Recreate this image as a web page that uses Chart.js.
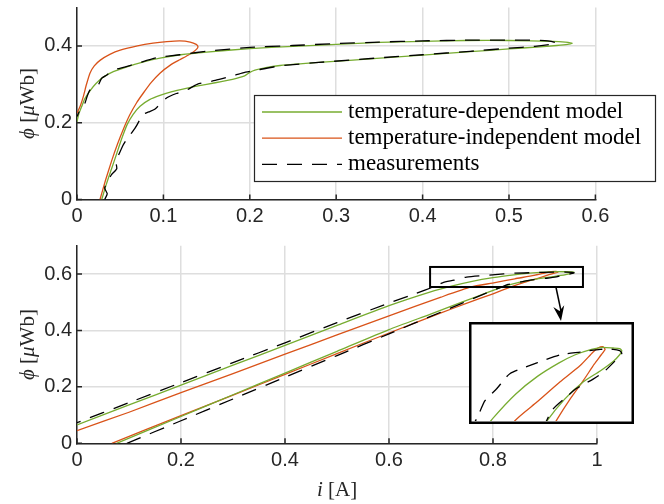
<!DOCTYPE html>
<html><head><meta charset="utf-8">
<script src="https://cdn.jsdelivr.net/npm/chart.js@4"></script>
<style>
html,body{margin:0;padding:0;background:#fff;}
#wrap{position:relative;width:664px;height:504px;overflow:hidden;background:#fff;}
canvas{position:absolute;left:0;}
#cTop{top:0;}
#cBot{top:230px;}
#cIn{left:469px;top:322px;background:#fff;}
</style></head><body>
<div id="wrap">
<canvas id="cTop" width="664" height="230"></canvas>
<canvas id="cBot" width="664" height="274"></canvas>
<canvas id="cIn" width="165" height="102"></canvas>
</div>
<script>
// ---------- data (i in A, phi in uWb) ----------
const legendLabels = ['temperature-dependent model', 'temperature-independent model', 'measurements'];

// Upper subplot
const topTdI   = [0.0286,0.034,0.040,0.046,0.052,0.058,0.065,0.073,0.084,0.096,0.110,0.125,0.140,0.160,0.180,0.194,0.200,0.206,0.220,0.235,0.280,0.351,0.400,0.455,0.500,0.532,0.555,0.568,0.573,0.565,0.550,0.500,0.450,0.400,0.350,0.300,0.250,0.200,0.150,0.120,0.096,0.075,0.057,0.042,0.030,0.022,0.015,0.009,0.0054,0.002,0];
const topTdPhi = [0,0.040,0.080,0.120,0.160,0.195,0.222,0.243,0.260,0.271,0.281,0.289,0.296,0.304,0.313,0.322,0.331,0.337,0.344,0.349,0.357,0.368,0.376,0.385,0.392,0.397,0.401,0.404,0.407,0.410,0.412,0.414,0.414,0.412,0.409,0.404,0.399,0.393,0.384,0.377,0.368,0.357,0.345,0.333,0.318,0.302,0.283,0.262,0.242,0.222,0.203];

const topTiI   = [0.0266,0.033,0.040,0.047,0.054,0.061,0.069,0.077,0.086,0.096,0.108,0.119,0.128,0.135,0.139,0.140,0.138,0.131,0.119,0.104,0.088,0.070,0.050,0.038,0.027,0.020,0.015,0.011,0.0073,0.004,0];
const topTiPhi = [0,0.050,0.100,0.145,0.185,0.220,0.252,0.278,0.305,0.329,0.350,0.364,0.375,0.385,0.393,0.398,0.404,0.410,0.413,0.411,0.407,0.400,0.389,0.378,0.363,0.348,0.329,0.300,0.268,0.245,0.225];

const topMeasI   = [0.032,0.035,0.032,0.036,0.040,0.046,0.045,0.048,0.053,0.057,0.062,0.067,0.072,0.075,0.083,0.090,0.097,0.104,0.115,0.127,0.139,0.160,0.180,0.192,0.208,0.235,0.280,0.351,0.400,0.455,0.500,0.530,0.548,0.555,0.545,0.532,0.500,0.455,0.400,0.350,0.300,0.250,0.200,0.154,0.119,0.092,0.069,0.055,0.042,0.035,0.0286,0.025,0.015,0.012,0.009,0.0035,0];
const topMeasPhi = [0,0.015,0.030,0.050,0.065,0.080,0.100,0.115,0.140,0.155,0.170,0.185,0.205,0.220,0.228,0.235,0.250,0.265,0.276,0.285,0.300,0.310,0.322,0.330,0.337,0.348,0.357,0.369,0.377,0.386,0.394,0.399,0.404,0.408,0.413,0.415,0.415,0.415,0.413,0.410,0.406,0.401,0.396,0.387,0.377,0.369,0.354,0.345,0.337,0.325,0.316,0.300,0.285,0.270,0.250,0.233,0.216];

// Lower subplot
const botTdI   = [0.076,0.2,0.3,0.4,0.5,0.6,0.68,0.74,0.79,0.814,0.85,0.885,0.916,0.94,0.952,0.956,0.952,0.94,0.92,0.90,0.87,0.84,0.80,0.76,0.72,0.68,0.6,0.5,0.4,0.3,0.2,0.1,0];
const botTdPhi = [0,0.095,0.172,0.249,0.326,0.403,0.458,0.500,0.535,0.552,0.570,0.583,0.591,0.598,0.603,0.606,0.6075,0.608,0.6085,0.607,0.603,0.597,0.587,0.574,0.557,0.537,0.488,0.418,0.347,0.277,0.206,0.136,0.065];

const botTiI   = [0.067,0.2,0.3,0.4,0.5,0.6,0.7,0.75,0.8,0.836,0.86,0.885,0.905,0.918,0.925,0.921,0.912,0.903,0.879,0.842,0.799,0.758,0.7,0.6,0.5,0.4,0.3,0.2,0.1,0];
const botTiPhi = [0,0.098,0.171,0.244,0.318,0.391,0.462,0.497,0.530,0.555,0.570,0.584,0.596,0.603,0.607,0.609,0.608,0.605,0.595,0.583,0.568,0.554,0.518,0.452,0.384,0.316,0.247,0.180,0.110,0.045];

const botMeasI   = [0.096,0.2,0.3,0.4,0.5,0.6,0.7,0.78,0.814,0.829,0.854,0.872,0.903,0.922,0.94,0.95,0.956,0.952,0.94,0.916,0.879,0.842,0.799,0.749,0.725,0.703,0.688,0.65,0.6,0.5,0.4,0.3,0.2,0.1,0];
const botMeasPhi = [0,0.080,0.157,0.234,0.311,0.388,0.465,0.527,0.552,0.563,0.572,0.578,0.585,0.590,0.597,0.601,0.604,0.606,0.607,0.607,0.605,0.603,0.597,0.589,0.578,0.569,0.556,0.530,0.497,0.428,0.356,0.286,0.215,0.144,0.073];

// Axis ranges / ticks
const topXRange = [0, 0.6], topXStep = 0.1, topYRange = [0, 0.5], topYStep = 0.2;
const botXRange = [0, 1],   botXStep = 0.2, botYRange = [0, 0.7], botYStep = 0.2;
// Zoomed region shown in the inset
const insetIRange = [0.679, 0.973];
const insetPhiRange = [0.554, 0.625];

// ---------- styling ----------
const GREEN = '#77AC30', ORANGE = '#D95319', BLACK = '#000000', AX = '#262626';
const DASH = [15, 10];
const TICKFONT = {family: '"Liberation Sans", Arial, Helvetica, sans-serif', size: 20};
const SERIF = '"Liberation Serif", "Times New Roman", serif';

function pts(xs, ys) { return xs.map((x, k) => ({x: x, y: ys[k]})); }
function ds(label, xs, ys, color, dash, order) {
  return {label, data: pts(xs, ys), showLine: true, borderColor: color, backgroundColor: color,
    borderWidth: 1.3, borderDash: dash, pointRadius: 0, pointHoverRadius: 0, fill: false,
    tension: 0.2, order};
}
const fmt = v => String(+(+v).toFixed(2));

function xAxis(r, step, h) {
  return {type: 'linear', min: r[0], max: r[1],
    ticks: {stepSize: step, color: AX, font: TICKFONT, padding: 5, maxRotation: 0, autoSkip: false, callback: fmt},
    grid: {color: '#dedede', lineWidth: 1.5, drawTicks: false},
    border: {display: true, color: AX, width: 1.5},
    afterFit: s => { s.height = h; s.paddingLeft = 0; s.paddingRight = 0; }};
}
function yAxis(r, step) {
  return {type: 'linear', min: r[0], max: r[1],
    ticks: {stepSize: step, color: AX, font: TICKFONT, padding: 5, includeBounds: false, autoSkip: false, callback: fmt},
    grid: {color: '#dedede', lineWidth: 1.5, drawTicks: false},
    border: {display: true, color: AX, width: 1.5},
    afterFit: s => { s.width = 77; s.paddingTop = 0; s.paddingBottom = 0; }};
}

const inwardTicks = {id: 'inwardTicks', afterDatasetsDraw(chart) {
  const {ctx, chartArea: a, scales: {x, y}} = chart;
  ctx.save(); ctx.strokeStyle = AX; ctx.lineWidth = 1.5; ctx.beginPath();
  x.ticks.forEach(t => { const p = x.getPixelForValue(t.value); ctx.moveTo(p, a.bottom); ctx.lineTo(p, a.bottom - 5); });
  y.ticks.forEach(t => { const p = y.getPixelForValue(t.value); ctx.moveTo(a.left, p); ctx.lineTo(a.left + 5, p); });
  ctx.stroke(); ctx.restore();
}};

function drawRich(ctx, pieces, cx, cy, rot, size) {
  ctx.save(); ctx.translate(cx, cy); if (rot) ctx.rotate(rot);
  ctx.fillStyle = AX; ctx.textBaseline = 'middle'; ctx.textAlign = 'left';
  let w = 0;
  pieces.forEach(p => { ctx.font = (p.it ? 'italic ' : '') + size + 'px ' + SERIF; p.w = ctx.measureText(p.t).width; w += p.w; });
  let xx = -w / 2;
  pieces.forEach(p => { ctx.font = (p.it ? 'italic ' : '') + size + 'px ' + SERIF; ctx.fillText(p.t, xx, 0); xx += p.w; });
  ctx.restore();
}
const phiTitle = [{t: 'ϕ', it: true}, {t: ' [', it: false}, {t: 'μ', it: true}, {t: 'Wb]', it: false}];
const iTitle = [{t: 'i', it: true}, {t: ' [A]', it: false}];

const yTitlePlugin = {id: 'yTitle', afterDraw(chart) {
  const a = chart.chartArea;
  drawRich(chart.ctx, phiTitle, 28, (a.top + a.bottom) / 2, -Math.PI / 2, 21);
}};
const xTitlePlugin = {id: 'xTitle', afterDraw(chart) {
  const a = chart.chartArea;
  drawRich(chart.ctx, iTitle, (a.left + a.right) / 2, a.bottom + 47, 0, 21);
}};

const legendPlugin = {id: 'boxLegend', afterDraw(chart) {
  const ctx = chart.ctx;
  const bx = 254, by = 95, bw = 401, bh = 86;
  ctx.save();
  ctx.fillStyle = '#fff'; ctx.fillRect(bx, by, bw, bh);
  ctx.strokeStyle = AX; ctx.lineWidth = 1.2; ctx.strokeRect(bx + 0.5, by + 0.5, bw, bh);
  const rows = [[GREEN, []], [ORANGE, []], [BLACK, DASH]];
  rows.forEach((r, k) => {
    const yy = 112 + k * 26.2;
    ctx.strokeStyle = r[0]; ctx.lineWidth = 1.3; ctx.setLineDash(r[1]);
    ctx.beginPath(); ctx.moveTo(262, yy); ctx.lineTo(342, yy); ctx.stroke();
    ctx.setLineDash([]);
    ctx.fillStyle = '#000'; ctx.font = '23px ' + SERIF; ctx.textBaseline = 'alphabetic'; ctx.textAlign = 'left';
    ctx.fillText(legendLabels[k], 348, yy + 5.5);
  });
  ctx.restore();
}};

const zoomMarks = {id: 'zoomMarks', afterDraw(chart) {
  const {ctx, scales: {x, y}} = chart;
  const x0 = x.getPixelForValue(insetIRange[0]), x1 = x.getPixelForValue(insetIRange[1]);
  const y0 = y.getPixelForValue(insetPhiRange[1]), y1 = y.getPixelForValue(insetPhiRange[0]);
  ctx.save(); ctx.strokeStyle = '#000'; ctx.lineWidth = 2;
  ctx.strokeRect(x0, y0, x1 - x0, y1 - y0);
  // arrow to the inset (inset top edge at y = 92 in this canvas)
  const sx = x.getPixelForValue(0.921), sy = y1, ex = 561, ey = 91;
  ctx.lineWidth = 1.5; ctx.beginPath(); ctx.moveTo(sx, sy); ctx.lineTo(ex, ey - 10); ctx.stroke();
  const ang = Math.atan2(ey - sy, ex - sx);
  ctx.fillStyle = '#000'; ctx.beginPath();
  ctx.moveTo(ex, ey);
  ctx.lineTo(ex - 15 * Math.cos(ang) + 5.5 * Math.sin(ang), ey - 15 * Math.sin(ang) - 5.5 * Math.cos(ang));
  ctx.lineTo(ex - 10 * Math.cos(ang), ey - 10 * Math.sin(ang));
  ctx.lineTo(ex - 15 * Math.cos(ang) - 5.5 * Math.sin(ang), ey - 15 * Math.sin(ang) + 5.5 * Math.cos(ang));
  ctx.closePath(); ctx.fill();
  ctx.restore();
}};

const insetBorder = {id: 'insetBorder', afterDraw(chart) {
  const ctx = chart.ctx;
  ctx.save(); ctx.strokeStyle = '#000'; ctx.lineWidth = 2.5;
  ctx.strokeRect(1.25, 1.25, chart.width - 2.5, chart.height - 2.5);
  ctx.restore();
}};

const common = {responsive: false, animation: false, devicePixelRatio: 1, events: [],
  plugins: {legend: {display: false}, tooltip: {enabled: false}}};

new Chart(document.getElementById('cTop'), {
  type: 'scatter',
  data: {datasets: [
    ds(legendLabels[2], topMeasI, topMeasPhi, BLACK, DASH, 0),
    ds(legendLabels[0], topTdI, topTdPhi, GREEN, [], 1),
    ds(legendLabels[1], topTiI, topTiPhi, ORANGE, [], 2)
  ]},
  options: Object.assign({}, common, {
    layout: {padding: {left: 0, right: 68.6, top: 7.5, bottom: 0}},
    scales: {x: xAxis(topXRange, topXStep, 30.5), y: yAxis(topYRange, topYStep)}
  }),
  plugins: [inwardTicks, yTitlePlugin, legendPlugin]
});

new Chart(document.getElementById('cBot'), {
  type: 'scatter',
  data: {datasets: [
    ds(legendLabels[2], botMeasI, botMeasPhi, BLACK, DASH, 0),
    ds(legendLabels[0], botTdI, botTdPhi, GREEN, [], 1),
    ds(legendLabels[1], botTiI, botTiPhi, ORANGE, [], 2)
  ]},
  options: Object.assign({}, common, {
    layout: {padding: {left: 0, right: 67, top: 15.8, bottom: 0}},
    scales: {x: xAxis(botXRange, botXStep, 60.7), y: yAxis(botYRange, botYStep)}
  }),
  plugins: [inwardTicks, yTitlePlugin, xTitlePlugin, zoomMarks]
});

new Chart(document.getElementById('cIn'), {
  type: 'scatter',
  data: {datasets: [
    ds(legendLabels[2], botMeasI, botMeasPhi, BLACK, [13, 9], 0),
    ds(legendLabels[0], botTdI, botTdPhi, GREEN, [], 1),
    ds(legendLabels[1], botTiI, botTiPhi, ORANGE, [], 2)
  ]},
  options: Object.assign({}, common, {
    layout: {padding: 3},
    scales: {
      x: {type: 'linear', display: false, min: insetIRange[0], max: insetIRange[1]},
      y: {type: 'linear', display: false, min: insetPhiRange[0], max: insetPhiRange[1]}
    }
  }),
  plugins: [insetBorder]
});
</script>
</body></html>
